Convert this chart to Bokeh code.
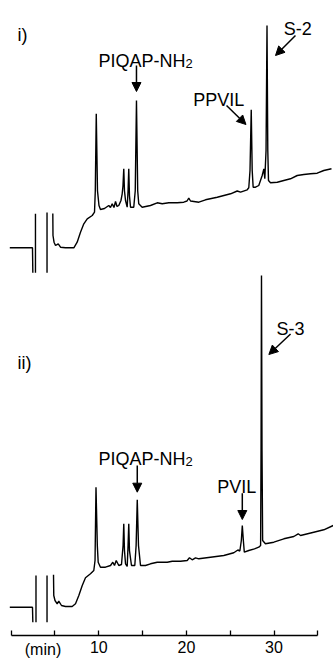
import math
from bokeh.plotting import figure
from bokeh.models import Range1d, FixedTicker, Label, Arrow, NormalHead
from bokeh.embed import file_html
from bokeh.resources import INLINE

nan = math.nan

# ---------------- data (time in min, detector response in arbitrary units) ----------------
# chromatogram i)
time_i = [-0.16, 2.43, 2.47, nan, 2.77, 2.77, nan, 4.09, 4.09, nan,
          4.75, 4.77, 4.89, 5.06, 5.37, 5.63, 6.20, 7.15, 7.53, 7.91, 8.29, 8.68, 9.25, 9.51,
          9.60, 9.71, 9.85, 10.02, 10.19, 10.65, 11.14, 11.33, 11.53, 11.73, 11.91, 12.08, 12.28,
          12.53, 12.67, 12.76, 12.85, 12.93, 13.05, 13.24, 13.34, 13.42, 13.50, 13.62, 13.99,
          14.16, 14.30, 14.44, 14.56, 14.95, 15.90, 16.67, 17.24, 17.99, 18.95, 19.70, 20.07,
          20.27, 20.47, 20.66, 21.42, 22.18, 23.52, 25.04, 25.80, 26.18, 26.94, 27.12, 27.26,
          27.40, 27.51, 27.62, 27.89, 28.26, 28.65, 28.84, 28.95, 29.09, 29.20, 29.29, 29.37,
          29.60, 30.37, 31.12, 31.88, 32.65, 33.40, 34.17, 34.93, 35.68, 36.56]
resp_i = [25.0, 25.0, 0.0, nan, 0.0, 59.0, nan, 0.0, 60.3, nan,
          59.3, 37.3, 30.6, 27.3, 29.0, 25.6, 25.0, 25.0, 30.6, 40.6, 49.0, 54.0, 57.3, 60.6,
          82.0, 159.0, 82.0, 67.3, 63.3, 64.3, 67.3, 65.3, 69.0, 65.3, 71.3, 66.3, 67.3,
          72.3, 79.0, 87.0, 104.0, 82.0, 72.3, 65.6, 82.0, 104.0, 77.0, 65.6, 65.6,
          82.0, 172.3, 82.0, 69.0, 65.6, 67.3, 70.0, 69.0, 70.0, 70.0, 70.6, 71.8,
          74.6, 71.8, 71.6, 70.6, 73.0, 75.6, 79.0, 81.8, 80.6, 83.0, 85.0, 102.3,
          163.0, 102.3, 85.6, 85.6, 87.3, 97.3, 104.0, 94.0, 122.3, 247.3, 122.3, 92.3,
          90.0, 90.6, 92.3, 94.0, 97.3, 98.3, 99.0, 99.6, 102.3, 104.0]

# chromatogram ii)
time_ii = [-0.16, 2.43, 2.47, nan, 2.83, 2.83, nan, 4.09, 4.09, nan,
           4.83, 4.86, 5.00, 5.25, 5.43, 5.74, 6.20, 6.96, 7.34, 7.72, 8.11, 8.48, 9.05, 9.43,
           9.57, 9.68, 9.83, 9.93, 10.19, 10.76, 11.34, 11.60, 11.79, 11.99, 12.28, 12.59,
           12.77, 12.85, 12.93, 13.05, 13.24, 13.34, 13.42, 13.50, 13.73, 14.11, 14.26, 14.39,
           14.53, 14.76, 15.33, 15.90, 16.67, 17.81, 18.38, 19.33, 20.09, 20.35, 20.66, 21.04,
           21.42, 22.75, 24.27, 25.41, 25.87, 26.10, 26.27, 26.38, 26.50, 26.61, 27.12, 27.77,
           28.26, 28.47, 28.52, 28.57, 28.63, 28.70, 29.02, 29.98, 31.12, 32.26, 32.76, 33.03,
           34.54, 35.68, 36.76]
resp_ii = [15.0, 15.0, 0.0, nan, 0.0, 46.7, nan, 0.0, 46.7, nan,
           47.4, 26.7, 21.7, 18.4, 21.0, 16.7, 15.7, 15.7, 18.4, 26.7, 36.7, 44.4, 48.4, 51.7,
           61.7, 135.0, 76.7, 60.0, 55.0, 55.0, 56.7, 60.0, 56.7, 61.7, 56.7, 57.7,
           76.7, 98.4, 71.7, 58.4, 55.7, 76.7, 98.4, 71.7, 56.7, 56.7, 76.7, 122.4,
           76.7, 56.7, 56.7, 58.4, 60.0, 60.0, 61.0, 61.0, 61.7, 64.4, 62.4, 64.4,
           63.4, 65.0, 66.7, 69.4, 72.2, 71.2, 81.7, 96.7, 81.7, 70.0, 71.7, 73.4,
           75.0, 76.7, 171.7, 346.7, 171.7, 81.7, 78.4, 80.0, 83.4, 85.7, 88.4, 86.7,
           90.0, 92.4, 96.7]

tick_values = [0, 5, 10, 15, 20, 25, 30, 35]
tick_labels = {0: "", 5: "", 10: "10", 15: "", 20: "20", 25: "", 30: "30", 35: ""}
unit_label = "(min)"

# ---------------- layout constants ----------------
FONT = "Liberation Sans"
OFF_I = -272.3     # vertical placement of trace i)
OFF_II = -621.7    # vertical placement of trace ii)
AXIS_Y = -635.0
STANDOFF = 5

p = figure(width=333, height=658, output_backend="svg", toolbar_location=None,
           x_range=Range1d(-1.221, 36.79), y_range=Range1d(-658, 0),
           y_axis_location=None, min_border_left=0, min_border_right=0,
           min_border_top=0, min_border_bottom=0)
p.grid.visible = False
p.outline_line_color = None
p.background_fill_color = "white"
p.border_fill_color = "white"

p.line(time_i, [r + OFF_I for r in resp_i], line_color="black", line_width=1.4)
p.line(time_ii, [r + OFF_II for r in resp_ii], line_color="black", line_width=1.4)

ax = p.xaxis[0]
ax.fixed_location = AXIS_Y
ax.ticker = FixedTicker(ticks=tick_values)
ax.major_label_overrides = tick_labels
ax.bounds = (0, 35)
ax.axis_line_width = 1.3
ax.axis_line_color = "black"
ax.major_tick_in = 5
ax.major_tick_out = 0
ax.major_tick_line_width = 1.3
ax.minor_tick_line_color = None
ax.major_label_standoff = STANDOFF
ax.major_label_text_font = FONT
ax.major_label_text_font_size = "16px"
ax.major_label_text_color = "black"

p.add_layout(Label(x=3.63, y=AXIS_Y, y_offset=-STANDOFF, text=unit_label, text_align="center",
                   text_baseline="top", text_font=FONT, text_font_size="16px",
                   text_color="black"))


def txt(x, y, s, size="18px", align="left"):
    p.add_layout(Label(x=x, y=y, text=s, text_font=FONT, text_font_size=size,
                       text_align=align, text_baseline="alphabetic", text_color="black"))


def arrow(x0, y0, x1, y1):
    p.add_layout(Arrow(end=NormalHead(size=9, fill_color="black", line_color="black"),
                       x_start=x0, y_start=y0, x_end=x1, y_end=y1,
                       line_color="black", line_width=1.5))


# panel i)
txt(0.72, -34.5, "i)")
txt(19.9, -60.3, "PIQAP-NH", align="right")
txt(19.9, -63.3, "2", size="13px")
arrow(14.30, -65, 14.30, -91)
txt(20.78, -99, "PPVIL")
arrow(24.58, -105, 26.80, -124)
txt(31.12, -28.3, "S-2")
arrow(32.45, -35, 30.17, -55)

# panel ii)
txt(0.72, -362.9, "ii)")
txt(19.9, -458.3, "PIQAP-NH", align="right")
txt(19.9, -461.0, "2", size="13px")
arrow(14.39, -465, 14.39, -491.7)
txt(23.52, -486, "PVIL")
arrow(26.38, -492.7, 26.38, -519)
txt(30.29, -328.3, "S-3")
arrow(31.89, -333.5, 29.41, -354)

open("out.html", "w").write(file_html(p, INLINE))
